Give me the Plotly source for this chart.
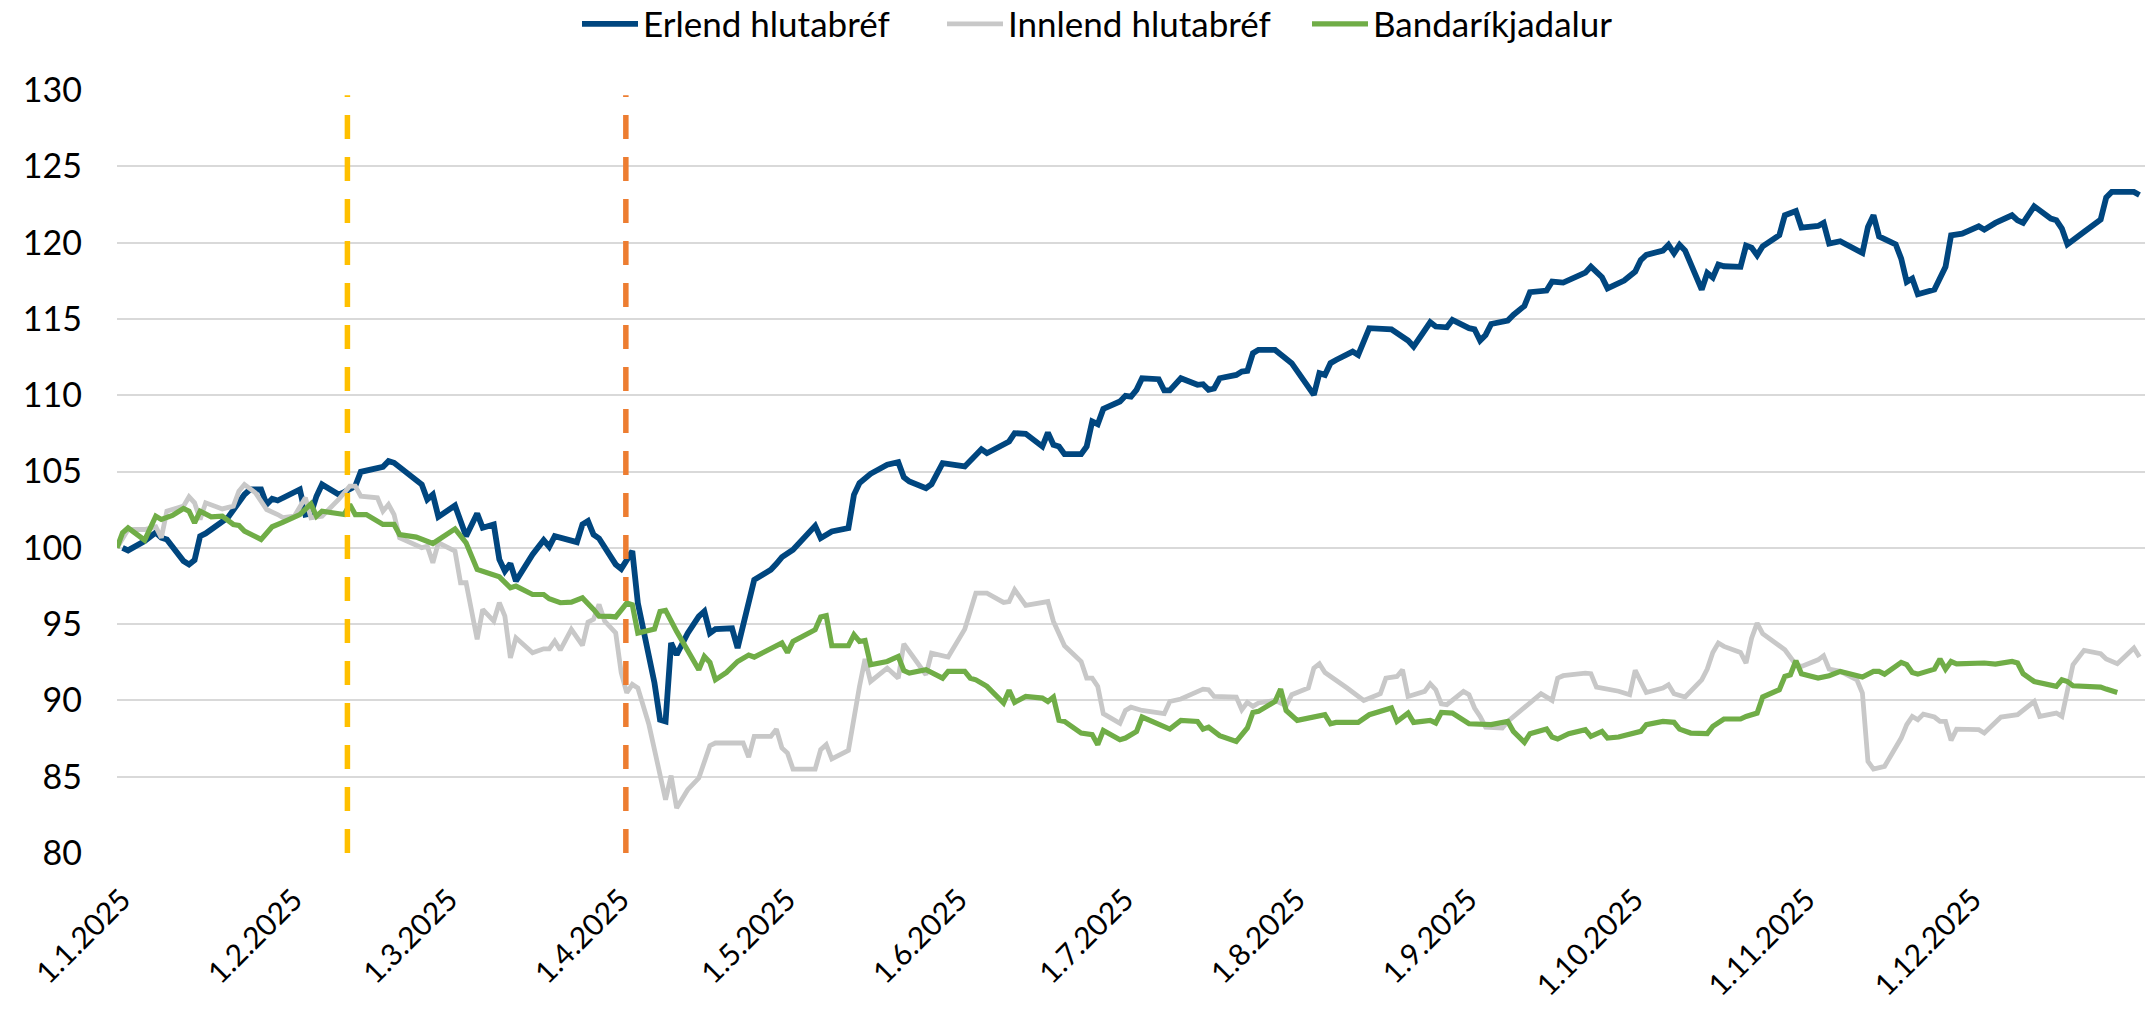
import plotly.graph_objects as go

# ---------------- data ----------------
erlend_dates = [
    "2025-01-02","2025-01-03","2025-01-06","2025-01-08","2025-01-09","2025-01-10","2025-01-13","2025-01-14",
    "2025-01-15","2025-01-16","2025-01-17","2025-01-21","2025-01-24","2025-01-25","2025-01-27","2025-01-28",
    "2025-01-29","2025-01-30","2025-02-03","2025-02-04","2025-02-05","2025-02-06","2025-02-07","2025-02-10",
    "2025-02-11","2025-02-13","2025-02-14","2025-02-18","2025-02-19","2025-02-20","2025-02-25","2025-02-26",
    "2025-02-27","2025-02-28","2025-03-03","2025-03-05","2025-03-07","2025-03-08","2025-03-10","2025-03-11",
    "2025-03-12","2025-03-13","2025-03-14","2025-03-17","2025-03-19","2025-03-20","2025-03-21","2025-03-25",
    "2025-03-26","2025-03-27","2025-03-28","2025-03-29","2025-04-01","2025-04-02","2025-04-04","2025-04-05",
    "2025-04-08","2025-04-09","2025-04-10","2025-04-11","2025-04-12","2025-04-14","2025-04-16","2025-04-17",
    "2025-04-18","2025-04-19","2025-04-22","2025-04-23","2025-04-26","2025-04-29","2025-04-30","2025-05-01",
    "2025-05-03","2025-05-07","2025-05-08","2025-05-10","2025-05-13","2025-05-14","2025-05-15","2025-05-17",
    "2025-05-20","2025-05-22","2025-05-23","2025-05-24","2025-05-27","2025-05-28","2025-05-30","2025-06-03",
    "2025-06-06","2025-06-07","2025-06-11","2025-06-12","2025-06-14","2025-06-17","2025-06-18","2025-06-19",
    "2025-06-20","2025-06-21","2025-06-24","2025-06-25","2025-06-26","2025-06-27","2025-06-28","2025-06-29",
    "2025-07-01","2025-07-02","2025-07-03","2025-07-04","2025-07-05","2025-07-08","2025-07-09","2025-07-10",
    "2025-07-12","2025-07-15","2025-07-16","2025-07-17","2025-07-18","2025-07-19","2025-07-22","2025-07-23",
    "2025-07-24","2025-07-25","2025-07-26","2025-07-29","2025-07-31","2025-08-01","2025-08-05","2025-08-06",
    "2025-08-07","2025-08-08","2025-08-09","2025-08-12","2025-08-13","2025-08-14","2025-08-15","2025-08-19",
    "2025-08-21","2025-08-22","2025-08-23","2025-08-26","2025-08-27","2025-08-29","2025-08-30","2025-09-02",
    "2025-09-03","2025-09-04","2025-09-05","2025-09-06","2025-09-09","2025-09-10","2025-09-12","2025-09-13",
    "2025-09-16","2025-09-17","2025-09-19","2025-09-21","2025-09-23","2025-09-24","2025-09-26","2025-09-27",
    "2025-09-30","2025-10-02","2025-10-03","2025-10-04","2025-10-07","2025-10-08","2025-10-09","2025-10-10",
    "2025-10-11","2025-10-14","2025-10-15","2025-10-16","2025-10-17","2025-10-18","2025-10-21","2025-10-22",
    "2025-10-23","2025-10-24","2025-10-25","2025-10-28","2025-10-29","2025-10-31","2025-11-01","2025-11-04",
    "2025-11-05","2025-11-06","2025-11-08","2025-11-12","2025-11-13","2025-11-14","2025-11-15","2025-11-18",
    "2025-11-19","2025-11-20","2025-11-21","2025-11-22","2025-11-25","2025-11-27","2025-11-28","2025-11-30",
    "2025-12-03","2025-12-04","2025-12-06","2025-12-09","2025-12-10","2025-12-11","2025-12-13","2025-12-16",
    "2025-12-17","2025-12-18","2025-12-19","2025-12-22","2025-12-25","2025-12-26","2025-12-27","2025-12-31",
    "2026-01-01",
]
erlend_values = [
    100.0, 99.83, 100.44, 101.0, 100.66, 100.55, 99.13, 98.91,
    99.19, 100.76, 100.94, 101.97, 103.49, 103.82, 103.82, 102.84,
    103.21, 103.10, 103.82, 102.18, 102.25, 103.38, 104.15, 103.49,
    103.65, 104.04, 104.98, 105.31, 105.68, 105.57, 104.15, 103.17,
    103.49, 102.03, 102.77, 100.76, 102.25, 101.31, 101.53, 99.24,
    98.47, 98.97, 97.82, 99.56, 100.50, 100.07, 100.76, 100.37,
    101.53, 101.75, 100.87, 100.61, 98.91, 98.62, 99.78, 96.38,
    91.14, 88.73, 88.62, 93.76, 92.99, 94.41, 95.50, 95.83,
    94.41, 94.67, 94.72, 93.43, 97.90, 98.56, 98.95, 99.39,
    99.87, 101.44, 100.63, 101.07, 101.29, 103.47, 104.24, 104.85,
    105.44, 105.61, 104.63, 104.34, 103.91, 104.17, 105.55, 105.33,
    106.46, 106.20, 106.97, 107.51, 107.47, 106.64, 107.55, 106.75,
    106.64, 106.14, 106.14, 106.64, 108.28, 108.10, 109.10, 109.26,
    109.59, 109.96, 109.91, 110.35, 111.11, 111.05, 110.31, 110.31,
    111.11, 110.68, 110.72, 110.35, 110.44, 111.11, 111.33, 111.55,
    111.59, 112.75, 112.97, 112.97, 112.42, 112.10, 110.02, 111.44,
    111.33, 112.10, 112.31, 112.86, 112.64, 113.62, 114.39, 114.32,
    113.84, 113.58, 113.19, 114.78, 114.50, 114.45, 114.93, 114.39,
    114.32, 113.58, 113.95, 114.67, 114.89, 115.26, 115.85, 116.75,
    116.86, 117.45, 117.38, 117.73, 118.03, 118.43, 117.73, 117.00,
    117.51, 118.10, 118.86, 119.19, 119.48, 119.85, 119.30, 119.85,
    119.48, 116.92, 118.01, 117.71, 118.56, 118.45, 118.41, 119.80,
    119.67, 119.17, 119.76, 120.48, 121.79, 122.07, 120.98, 121.09,
    121.29, 119.93, 120.09, 119.32, 121.03, 121.79, 120.41, 119.89,
    118.95, 117.42, 117.64, 116.62, 116.92, 118.41, 120.48, 120.59,
    121.07, 120.85, 121.29, 121.79, 121.46, 121.29, 122.38, 121.57,
    121.46, 120.92, 119.89, 120.70, 121.51, 122.95, 123.32, 123.32,
    123.12,
]

innlend_dates = [
    "2025-01-01","2025-01-03","2025-01-06","2025-01-08","2025-01-09","2025-01-10","2025-01-12","2025-01-13",
    "2025-01-14","2025-01-15","2025-01-16","2025-01-17","2025-01-20","2025-01-22","2025-01-23","2025-01-24",
    "2025-01-26","2025-01-28","2025-01-30","2025-01-31","2025-02-02","2025-02-04","2025-02-05","2025-02-07",
    "2025-02-10","2025-02-12","2025-02-13","2025-02-14","2025-02-17","2025-02-18","2025-02-19","2025-02-20",
    "2025-02-21","2025-02-25","2025-02-26","2025-02-27","2025-02-28","2025-03-03","2025-03-04","2025-03-05",
    "2025-03-07","2025-03-08","2025-03-10","2025-03-11","2025-03-12","2025-03-13","2025-03-14","2025-03-17",
    "2025-03-19","2025-03-20","2025-03-21","2025-03-22","2025-03-24","2025-03-26","2025-03-27","2025-03-28",
    "2025-03-29","2025-03-30","2025-04-01","2025-04-02","2025-04-03","2025-04-04","2025-04-05","2025-04-07",
    "2025-04-10","2025-04-11","2025-04-12","2025-04-14","2025-04-16","2025-04-18","2025-04-19","2025-04-24",
    "2025-04-25","2025-04-26","2025-04-29","2025-04-30","2025-05-01","2025-05-02","2025-05-03","2025-05-07",
    "2025-05-08","2025-05-09","2025-05-10","2025-05-13","2025-05-15","2025-05-16","2025-05-17","2025-05-20",
    "2025-05-22","2025-05-23","2025-05-27","2025-05-28","2025-05-31","2025-06-03","2025-06-05","2025-06-07",
    "2025-06-10","2025-06-11","2025-06-12","2025-06-14","2025-06-18","2025-06-19","2025-06-21","2025-06-24",
    "2025-06-25","2025-06-26","2025-06-27","2025-06-28","2025-07-01","2025-07-02","2025-07-03","2025-07-05",
    "2025-07-09","2025-07-10","2025-07-12","2025-07-16","2025-07-17","2025-07-18","2025-07-22","2025-07-23",
    "2025-07-24","2025-07-25","2025-07-26","2025-07-29","2025-07-31","2025-08-01","2025-08-04","2025-08-05",
    "2025-08-06","2025-08-07","2025-08-11","2025-08-14","2025-08-17","2025-08-18","2025-08-20","2025-08-21",
    "2025-08-22","2025-08-25","2025-08-26","2025-08-27","2025-08-28","2025-08-29","2025-09-01","2025-09-02",
    "2025-09-03","2025-09-04","2025-09-05","2025-09-08","2025-09-09","2025-09-12","2025-09-15","2025-09-17",
    "2025-09-18","2025-09-19","2025-09-23","2025-09-24","2025-09-25","2025-09-26","2025-09-29","2025-10-01",
    "2025-10-02","2025-10-03","2025-10-04","2025-10-07","2025-10-08","2025-10-09","2025-10-11","2025-10-14",
    "2025-10-15","2025-10-16","2025-10-17","2025-10-18","2025-10-21","2025-10-22","2025-10-23","2025-10-24",
    "2025-10-25","2025-10-29","2025-10-30","2025-10-31","2025-11-01","2025-11-04","2025-11-05","2025-11-06",
    "2025-11-08","2025-11-11","2025-11-12","2025-11-13","2025-11-14","2025-11-16","2025-11-19","2025-11-20",
    "2025-11-21","2025-11-22","2025-11-23","2025-11-25","2025-11-26","2025-11-27","2025-11-28","2025-11-29",
    "2025-12-03","2025-12-04","2025-12-07","2025-12-10","2025-12-13","2025-12-14","2025-12-17","2025-12-18",
    "2025-12-20","2025-12-22","2025-12-25","2025-12-26","2025-12-28","2025-12-31","2026-01-01",
]
innlend_values = [
    100.0, 101.2, 101.2, 101.38, 100.66, 102.40, 102.62, 102.73,
    103.34, 102.95, 101.86, 102.95, 102.55, 102.73, 103.71, 104.15,
    103.60, 102.51, 102.18, 101.97, 102.07, 103.28, 101.97, 102.07,
    103.17, 104.04, 104.04, 103.38, 103.28, 102.40, 102.84, 102.18,
    100.66, 100.0, 100.11, 99.02, 100.33, 99.78, 97.71, 97.71,
    94.0, 95.96, 95.20, 96.40, 95.52, 92.79, 94.10, 93.12,
    93.38, 93.38, 93.89, 93.30, 94.65, 93.60, 95.13, 95.31,
    96.29, 95.20, 94.43, 91.81, 90.50, 91.05, 90.81, 88.41,
    83.49, 85.07, 82.95, 84.15, 84.91, 87.03, 87.21, 87.21,
    86.29, 87.64, 87.64, 88.12, 86.88, 86.55, 85.50, 85.50,
    86.77, 87.10, 86.16, 86.72, 90.92, 92.71, 91.24, 92.12,
    91.46, 93.71, 91.68, 93.10, 92.84, 94.67, 97.03, 97.03,
    96.42, 96.48, 97.25, 96.22, 96.48, 95.17, 93.58, 92.55,
    91.46, 91.46, 90.92, 89.13, 88.50, 89.34, 89.56, 89.34,
    89.13, 89.93, 90.09, 90.74, 90.70, 90.26, 90.22, 89.39,
    89.87, 89.61, 89.83, 90.0, 89.65, 90.37, 90.81, 92.12,
    92.40, 91.83, 90.81, 90.0, 90.44, 91.46, 91.57, 92.01,
    90.26, 90.59, 91.09, 90.70, 89.78, 89.72, 90.59, 90.37,
    89.50, 88.95, 88.25, 88.19, 88.62, 89.50, 90.44, 90.0,
    91.46, 91.62, 91.79, 91.75, 90.87, 90.81, 90.60, 90.37,
    91.97, 91.24, 90.52, 90.81, 91.03, 90.44, 90.22, 91.35,
    92.05, 93.14, 93.76, 93.54, 93.14, 92.45, 94.08, 95.07,
    94.37, 93.32, 92.84, 92.34, 92.23, 92.66, 92.93, 92.05,
    91.90, 91.35, 90.48, 86.0, 85.50, 85.68, 87.53, 88.41,
    88.95, 88.73, 89.10, 88.91, 88.62, 88.62, 87.38, 88.12,
    88.08, 87.86, 88.91, 89.06, 89.93, 88.95, 89.17, 88.95,
    92.34, 93.28, 93.06, 92.71, 92.40, 93.43, 92.84,
]

usd_dates = [
    "2025-01-01","2025-01-02","2025-01-03","2025-01-06","2025-01-08","2025-01-09","2025-01-11","2025-01-13",
    "2025-01-14","2025-01-15","2025-01-16","2025-01-18","2025-01-20","2025-01-22","2025-01-23","2025-01-24",
    "2025-01-27","2025-01-29","2025-01-31","2025-02-03","2025-02-05","2025-02-06","2025-02-07","2025-02-11",
    "2025-02-12","2025-02-13","2025-02-15","2025-02-18","2025-02-20","2025-02-21","2025-02-24","2025-02-26",
    "2025-02-27","2025-03-03","2025-03-05","2025-03-07","2025-03-11","2025-03-13","2025-03-14","2025-03-17",
    "2025-03-19","2025-03-20","2025-03-22","2025-03-24","2025-03-26","2025-03-28","2025-03-29","2025-03-31",
    "2025-04-01","2025-04-03","2025-04-04","2025-04-05","2025-04-08","2025-04-09","2025-04-10","2025-04-12",
    "2025-04-16","2025-04-17","2025-04-18","2025-04-19","2025-04-21","2025-04-23","2025-04-25","2025-04-26",
    "2025-04-29","2025-05-01","2025-05-02","2025-05-03","2025-05-07","2025-05-08","2025-05-09","2025-05-10",
    "2025-05-13","2025-05-14","2025-05-15","2025-05-16","2025-05-17","2025-05-20","2025-05-22","2025-05-23",
    "2025-05-24","2025-05-27","2025-05-30","2025-05-31","2025-06-03","2025-06-04","2025-06-05","2025-06-07",
    "2025-06-10","2025-06-11","2025-06-12","2025-06-14","2025-06-17","2025-06-18","2025-06-19","2025-06-20",
    "2025-06-21","2025-06-24","2025-06-26","2025-06-27","2025-06-28","2025-07-01","2025-07-02","2025-07-04",
    "2025-07-05","2025-07-08","2025-07-10","2025-07-12","2025-07-15","2025-07-16","2025-07-17","2025-07-19",
    "2025-07-22","2025-07-24","2025-07-25","2025-07-26","2025-07-29","2025-07-30","2025-07-31","2025-08-02",
    "2025-08-07","2025-08-08","2025-08-09","2025-08-13","2025-08-15","2025-08-19","2025-08-20","2025-08-22",
    "2025-08-23","2025-08-26","2025-08-27","2025-08-28","2025-08-30","2025-09-02","2025-09-04","2025-09-06",
    "2025-09-09","2025-09-10","2025-09-12","2025-09-13","2025-09-16","2025-09-17","2025-09-18","2025-09-20",
    "2025-09-23","2025-09-24","2025-09-26","2025-09-27","2025-09-29","2025-09-30","2025-10-01","2025-10-03",
    "2025-10-04","2025-10-07","2025-10-09","2025-10-10","2025-10-12","2025-10-15","2025-10-16","2025-10-18",
    "2025-10-21","2025-10-22","2025-10-24","2025-10-25","2025-10-28","2025-10-29","2025-10-30","2025-10-31",
    "2025-11-01","2025-11-04","2025-11-06","2025-11-08","2025-11-12","2025-11-14","2025-11-15","2025-11-16",
    "2025-11-19","2025-11-20","2025-11-21","2025-11-22","2025-11-25","2025-11-26","2025-11-27","2025-11-28",
    "2025-11-29","2025-12-04","2025-12-06","2025-12-09","2025-12-10","2025-12-11","2025-12-13","2025-12-17",
    "2025-12-18","2025-12-19","2025-12-20","2025-12-25","2025-12-26","2025-12-28",
]
usd_values = [
    100.0, 100.98, 101.31, 100.50, 102.07, 101.86, 102.12, 102.58,
    102.40, 101.64, 102.40, 102.03, 102.07, 101.53, 101.46, 101.09,
    100.55, 101.38, 101.68, 102.18, 102.88, 102.07, 102.40, 102.18,
    102.84, 102.18, 102.18, 101.53, 101.53, 100.87, 100.70, 100.44,
    100.28, 101.24, 100.33, 98.58, 98.10, 97.38, 97.49, 96.94,
    96.94, 96.66, 96.40, 96.44, 96.72, 95.96, 95.52, 95.50,
    95.47, 96.38, 96.27, 94.41, 94.67, 95.83, 95.90, 94.52,
    92.01, 92.88, 92.49, 91.35, 91.83, 92.55, 92.97, 92.84,
    93.36, 93.76, 93.14, 93.86, 94.63, 95.46, 95.55, 93.58,
    93.58, 94.30, 93.86, 93.93, 92.34, 92.55, 92.88, 91.96,
    91.79, 92.01, 91.46, 91.90, 91.90, 91.46, 91.35, 90.92,
    89.83, 90.66, 89.87, 90.26, 90.15, 89.93, 90.22, 88.69,
    88.62, 87.86, 87.75, 87.10, 88.03, 87.42, 87.53, 87.97,
    88.91, 88.41, 88.12, 88.69, 88.62, 88.12, 88.25, 87.69,
    87.31, 88.19, 89.21, 89.28, 89.93, 90.74, 89.34, 88.69,
    89.06, 88.47, 88.56, 88.56, 89.06, 89.50, 88.62, 89.17,
    88.56, 88.69, 88.52, 89.21, 89.17, 88.47, 88.41, 88.41,
    88.62, 87.97, 87.25, 87.82, 88.12, 87.60, 87.47, 87.82,
    88.08, 87.64, 87.97, 87.53, 87.60, 87.69, 87.86, 87.97,
    88.41, 88.62, 88.56, 88.12, 87.86, 87.82, 88.30, 88.78,
    88.78, 88.95, 89.17, 90.22, 90.70, 91.57, 91.68, 92.60,
    91.75, 91.46, 91.62, 91.90, 91.53, 91.90, 91.90, 91.72,
    92.49, 92.34, 91.83, 91.72, 92.05, 92.71, 92.05, 92.55,
    92.40, 92.45, 92.38, 92.55, 92.45, 91.75, 91.24, 90.92,
    91.35, 91.24, 90.96, 90.87, 90.74, 90.52,
]

event_dates = ["2025-02-11 14:00", "2025-04-02 20:00"]
event_colors = ["#FFC000", "#ED7D31"]

series_names = ["Erlend hlutabréf", "Innlend hlutabréf", "Bandaríkjadalur"]
series_colors = ["#00467F", "#C8C8C8", "#70AD47"]
series_widths = [5.8, 4.8, 5.2]

tick_dates = ["2025-%02d-01" % m for m in range(1, 13)]
tick_labels = ["1.%d.2025" % m for m in range(1, 13)]
y_ticks = [80, 85, 90, 95, 100, 105, 110, 115, 120, 125, 130]

FONT = "Lato, 'Liberation Sans', Arial, sans-serif"

fig = go.Figure()
for name, xs, ys, col, w in zip(series_names,
                                [erlend_dates, innlend_dates, usd_dates],
                                [erlend_values, innlend_values, usd_values],
                                series_colors, series_widths):
    fig.add_trace(go.Scatter(x=xs, y=ys, name=name, mode="lines",
                             line=dict(color=col, width=w)))

for d, c in zip(event_dates, event_colors):
    fig.add_trace(go.Scatter(x=[d, d], y=[80, 129.65], mode="lines", showlegend=False,
                             hoverinfo="skip",
                             line=dict(color=c, width=5.5, dash="24px,18px")))

fig.update_layout(
    width=2154, height=1009,
    margin=dict(l=117, r=9, t=90, b=155.5, autoexpand=False),
    paper_bgcolor="white", plot_bgcolor="white",
    font=dict(family=FONT, size=34, color="#000000"),
    showlegend=True,
    legend=dict(orientation="h", x=(577 - 117) / 2028, xanchor="left",
                y=1.0864, yanchor="middle",
                font=dict(size=35), itemwidth=56, entrywidth=294,
                bgcolor="rgba(0,0,0,0)"),
)
fig.update_xaxes(
    type="date", range=["2025-01-01", "2026-01-02"],
    tickmode="array", tickvals=tick_dates, ticktext=tick_labels,
    tickangle=-45, showgrid=False, zeroline=False, showline=False,
    ticks="", ticklabelstandoff=22, ticklabelshift=5,
    tickfont=dict(size=30),
)
fig.update_yaxes(
    range=[80, 130], tickmode="array", tickvals=y_ticks,
    showgrid=True, gridcolor="#D9D9D9", gridwidth=2,
    zeroline=False, showline=False, ticks="", ticklabelstandoff=34,
)

# remove the page's default 8 px body margin so the figure fills the window exactly
fig.write_html("out.html", config={"displayModeBar": False},
               post_script="document.body.style.margin='0px';")
